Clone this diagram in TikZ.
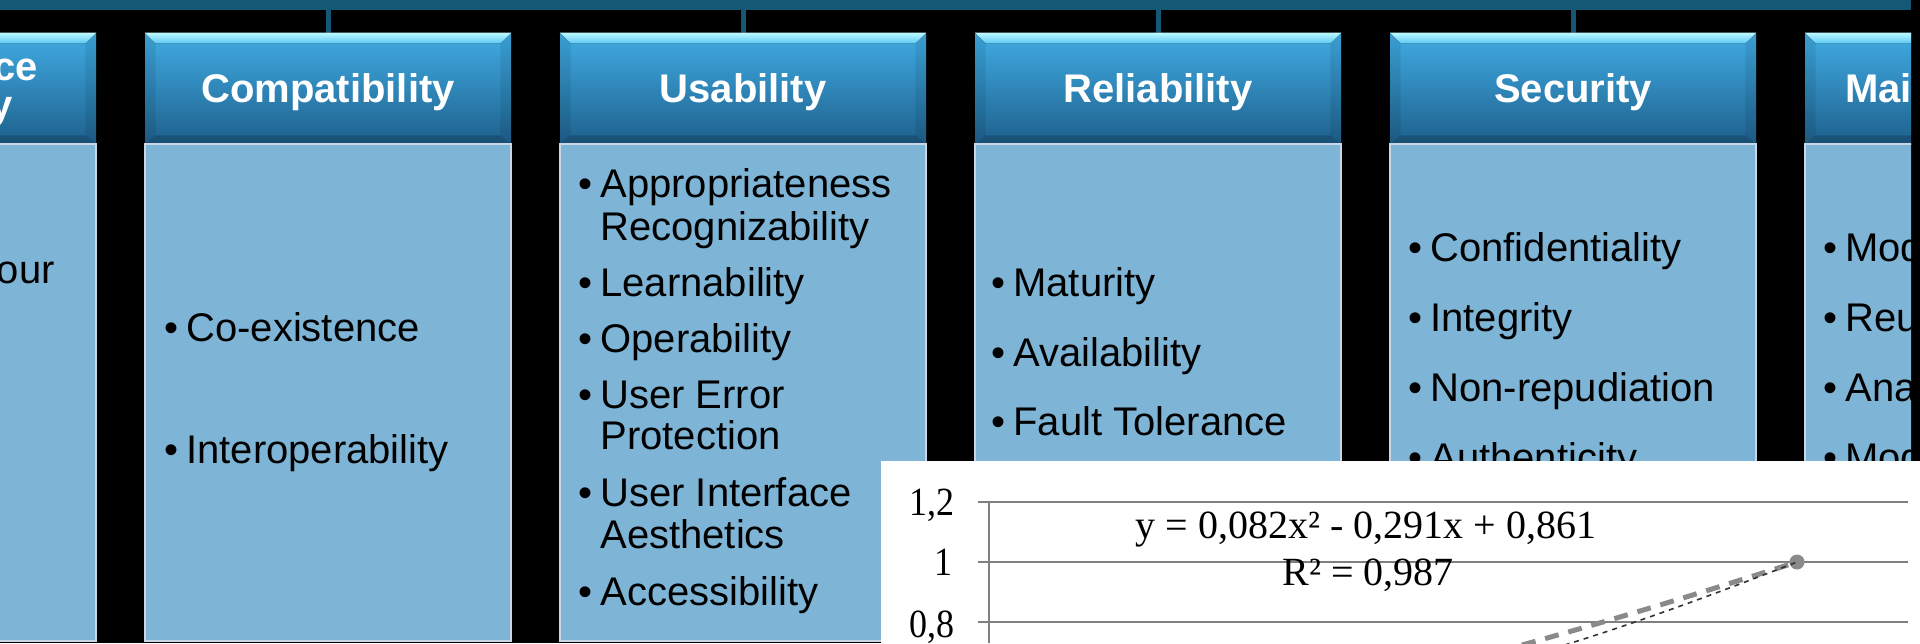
\documentclass[tikz,border=0pt]{standalone}
\usepackage{fontspec}
\setmainfont{Liberation Sans}
\newfontfamily\chartfont{Liberation Serif}
\definecolor{barcol}{RGB}{21,88,118}
\definecolor{bodycol}{RGB}{126,181,214}
\definecolor{bodyedge}{RGB}{200,214,230}
\definecolor{hdtop}{RGB}{64,172,228}
\definecolor{hdbot}{RGB}{30,96,140}
\definecolor{hlA}{RGB}{190,250,255}
\definecolor{hlB}{RGB}{88,198,244}
\definecolor{gridcol}{RGB}{128,128,128}
\definecolor{ptcol}{RGB}{138,138,138}
\definecolor{trendcol}{RGB}{50,50,50}
\tikzset{
  hdrbox/.style={minimum width=183pt, minimum height=55.5pt, inner sep=0pt, top color=hdtop, bottom color=hdbot, draw=none},
  bodybox/.style={minimum width=183pt, minimum height=248.5pt, inner sep=0pt, fill=bodycol, draw=bodyedge, line width=1pt},
  stem/.style={draw=barcol, line width=2.5pt},
  topbevel/.style={top color=hlA, bottom color=hlB},
  sidebevel/.style={fill=black, fill opacity=0.08},
  botbevel/.style={fill=black, fill opacity=0.18},
  htxt/.style={anchor=base, inner sep=0pt, text=white, font=\bfseries\fontsize{20}{24}\selectfont},
  btxt/.style={anchor=base west, inner sep=0pt, text=black, font=\fontsize{20}{24}\selectfont},
  bul/.style={anchor=base east, inner sep=0pt, xshift=-3.5pt, text=black, font=\fontsize{20}{24}\selectfont},
  gridline/.style={draw=gridcol, line width=1pt},
  ctxt/.style={inner sep=0pt, text=black, font=\chartfont\fontsize{20}{24}\selectfont},
  seriesline/.style={draw=ptcol, line width=2.5pt, dash pattern=on 7pt off 5pt},
  trendline/.style={draw=trendcol, line width=0.8pt, dash pattern=on 2.5pt off 2.5pt},
  datapt/.style={circle, fill=ptcol, minimum size=7.5pt, inner sep=0pt}
}
\newcommand\qcol[2]{%
  \coordinate (top#1) at (#2,10);
  \node[hdrbox] (h#1) at (#2,88.5) {};
  \draw[stem] (top#1) -- (h#1.north);
  \fill[topbevel] (h#1.north west) -- (h#1.north east) -- ([shift={(-11,11)}]h#1.north east) -- ([shift={(11,11)}]h#1.north west) -- cycle;
  \fill[sidebevel] (h#1.north west) -- ([shift={(11,11)}]h#1.north west) -- ([shift={(11,-9)}]h#1.south west) -- (h#1.south west) -- cycle;
  \fill[sidebevel] (h#1.north east) -- ([shift={(-11,11)}]h#1.north east) -- ([shift={(-11,-9)}]h#1.south east) -- (h#1.south east) -- cycle;
  \fill[botbevel] (h#1.south west) -- ([shift={(11,-9)}]h#1.south west) -- ([shift={(-11,-9)}]h#1.south east) -- (h#1.south east) -- cycle;
  \node[bodybox] (b#1) at (#2,392.5) {};
}
\newcommand\bitem[4]{\node[bul] (#1b) at (#2,#3) {•};\node[btxt] (#1) at (#2,#3) {#4};}
\newcommand\pitem[4]{\node[btxt] (#1) at (#2,#3) {#4};}
\begin{document}
\begin{tikzpicture}[x=0.5pt,y=-0.5pt]
\useasboundingbox (0,0) rectangle (1920,643);
\fill[black] (0,0) rectangle (1920,643);
\begin{scope}
\clip (0,0) rectangle (1911,643);
\fill[barcol] (0,0) rectangle (1911,10);
\qcol{A}{-87}
\qcol{B}{328}
\qcol{C}{743}
\qcol{D}{1158}
\qcol{E}{1573}
\qcol{F}{1988}
% header texts
\node[htxt, anchor=base east] (tA1) at (38,80) {ce};
\node[htxt, anchor=base east] (tA2) at (13,118) {y};
\node[htxt] (tB) at (328,102) {Compatibility};
\node[htxt] (tC) at (743,102) {Usability};
\node[htxt] (tD) at (1158,102) {Reliability};
\node[htxt] (tE) at (1573,102) {Security};
\node[htxt, anchor=base west] (tF) at (1845,102) {Mai};
% left partial body
\node[btxt, anchor=base east] (a1) at (55,283) {our};
% Compatibility
\bitem{c1}{186}{341}{Co-existence}
\bitem{c2}{186}{463}{Interoperability}
% Usability
\bitem{u1}{600}{197}{Appropriateness}
\pitem{u1x}{600}{240}{Recognizability}
\bitem{u2}{600}{296}{Learnability}
\bitem{u3}{600}{352}{Operability}
\bitem{u4}{600}{408}{User Error}
\pitem{u4x}{600}{449}{Protection}
\bitem{u5}{600}{506}{User Interface}
\pitem{u5x}{600}{548}{Aesthetics}
\bitem{u6}{600}{605}{Accessibility}
% Reliability
\bitem{r1}{1013}{296}{Maturity}
\bitem{r2}{1013}{366}{Availability}
\bitem{r3}{1013}{435}{Fault Tolerance}
% Security
\bitem{s1}{1430}{261}{Confidentiality}
\bitem{s2}{1430}{331}{Integrity}
\bitem{s3}{1430}{401}{Non-repudiation}
\bitem{s4}{1430}{471}{Authenticity}
% Maintainability (cut)
\bitem{m1}{1845}{261}{Mod}
\bitem{m2}{1845}{331}{Reu}
\bitem{m3}{1845}{401}{Ana}
\bitem{m4}{1845}{471}{Mod}
\end{scope}
% chart overlay
\fill[white] (881,461) rectangle (1920,643);
\draw[gridline] (978,502) -- (1908,502);
\draw[gridline] (978,562) -- (1908,562);
\draw[gridline] (978,622) -- (1908,622);
\draw[gridline] (989,502) -- (989,643);
\node[ctxt, anchor=base east] (l12) at (955,515) {\scalebox{0.9}[1]{1,2}};
\node[ctxt, anchor=base east] (l10) at (953,575) {\scalebox{0.9}[1]{1}};
\node[ctxt, anchor=base east] (l08) at (955,637) {\scalebox{0.9}[1]{0,8}};
\node[ctxt, anchor=base] (eq) at (1366,538) {y = 0,082x² - 0,291x + 0,861};
\node[ctxt, anchor=base] (rsq) at (1368,585) {R² = 0,987};
\node[datapt] (pt) at (1797,562) {};
\coordinate (gs) at (1522,645);
\coordinate (ts) at (1555,648);
\draw[seriesline] (gs) .. controls (1620,618) and (1710,590) .. (pt.center);
\draw[trendline] (ts) .. controls (1640,622) and (1720,592) .. (pt.center);
\end{tikzpicture}
\end{document}
